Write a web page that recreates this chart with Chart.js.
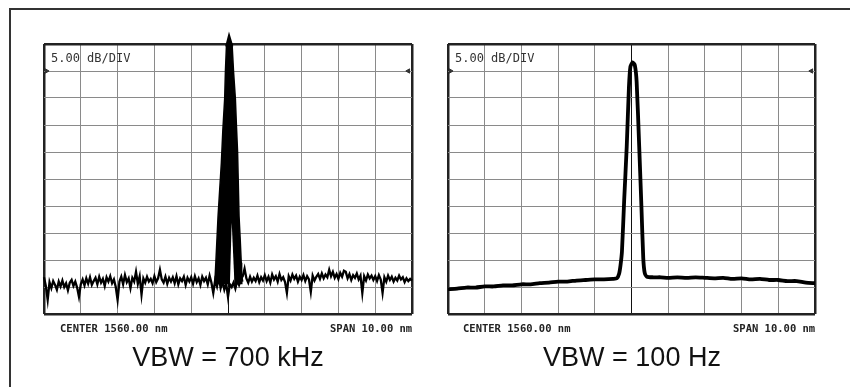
<!DOCTYPE html>
<html>
<head>
<meta charset="utf-8">
<script src="https://cdn.jsdelivr.net/npm/chart.js@4.4.1/dist/chart.umd.min.js"></script>
<style>
  body { margin: 0; background: #fff; }
  #lienzo { position: relative; width: 850px; height: 387px; overflow: hidden; }
  .marco { position: absolute; left: 9px; top: 8px; width: 900px; height: 450px;
           border-top: 2px solid #333; border-left: 2px solid #333; }
  .panel { position: absolute; top: 0; width: 425px; height: 387px; }
  .txt { position: absolute; white-space: pre; }
  .escala { font: 12px "DejaVu Sans Mono", monospace; line-height: 12px; color: #333; }
  .pie { font: bold 10.5px "DejaVu Sans Mono", monospace; line-height: 10.5px; color: #222; }
  .vbw { font: 27px "Liberation Sans", Arial, sans-serif; line-height: 27px; color: #111;
         width: 300px; text-align: center; }
</style>
</head>
<body>
<div id="lienzo">
  <div class="marco"></div>
  <div class="panel" style="left:0"><canvas id="graf700" width="425" height="387"></canvas></div>
  <div class="panel" style="left:425px"><canvas id="graf100" width="425" height="387"></canvas></div>

  <div class="txt escala" style="left:51px; top:52px">5.00 dB/DIV</div>
  <div class="txt escala" style="left:455px; top:52px">5.00 dB/DIV</div>
  <div class="txt pie" style="left:60px; top:323px">CENTER 1560.00 nm</div>
  <div class="txt pie" style="left:330px; top:323px; width:82px; text-align:right">SPAN 10.00 nm</div>
  <div class="txt pie" style="left:463px; top:323px">CENTER 1560.00 nm</div>
  <div class="txt pie" style="left:733px; top:323px; width:82px; text-align:right">SPAN 10.00 nm</div>
  <div class="txt vbw" style="left:78px; top:344px">VBW = 700 kHz</div>
  <div class="txt vbw" style="left:482px; top:344px">VBW = 100 Hz</div>
</div>

<script>
// barrido: 1555 - 1565 nm (centro 1560 nm, span 10 nm), 5 dB/div
const inicioBarrido = 1555;
const pasoBarrido = 0.05;

// traza con VBW = 700 kHz (dB, un valor por punto de barrido)
const traza700 = [
  -43.2, -44.8, -47.4, -44.1, -45.2, -43.9, -44.6, -45.5, -44.0, -44.9, -43.8, -45.0, -44.3, -45.6, -44.2, -43.7, -44.8, -44.0, -45.1, -46.8,
  -44.5, -43.6, -44.7, -43.4, -44.4, -43.2, -44.6, -43.9, -43.3, -44.5, -43.1, -44.2, -43.5, -44.8, -43.2, -44.0, -43.0, -44.3, -43.6, -45.0,
  -47.4, -44.0, -43.1, -44.5, -42.8, -44.1, -43.4, -45.2, -43.3, -44.0, -42.2, -44.4, -43.0, -46.4, -43.4, -44.2, -43.1, -44.0, -43.5, -44.3,
  -43.0, -44.1, -43.4, -41.8, -43.6, -44.2, -43.1, -44.4, -43.3, -44.0, -43.2, -44.3, -43.0, -44.5, -43.4, -43.9, -43.1, -44.6, -43.3, -44.0,
  -43.2, -44.4, -43.0, -44.1, -43.4, -44.6, -43.1, -43.9, -43.3, -44.5, -42.9, -44.2, -46.1, -43.8, -44.9, -43.0, -45.2, -44.0, -45.5, -44.3,
  -46.8, -44.5, -45.0, -44.2, -45.3, -43.8, -44.6, -43.5, -43.0, -41.6, -43.4, -44.2, -43.1, -44.0, -43.3, -43.9, -42.9, -44.1, -43.2, -43.8,
  -42.8, -43.9, -43.1, -44.2, -42.7, -43.6, -43.0, -44.0, -42.6, -43.7, -43.2, -44.1, -46.1, -43.0, -43.8, -42.7, -43.5, -42.9, -44.0, -43.1,
  -43.7, -42.8, -43.9, -43.0, -43.6, -45.9, -42.9, -43.8, -43.1, -42.6, -43.5, -42.5, -43.4, -42.7, -43.2, -41.8, -43.0, -42.2, -43.3, -42.6,
  -43.5, -42.4, -43.1, -42.0, -42.2, -43.4, -42.6, -43.7, -42.8, -43.3, -42.5, -43.6, -42.9, -46.1, -43.0, -43.8, -42.7, -43.4, -42.9, -43.7,
  -43.0, -43.9, -42.8, -43.6, -46.1, -43.2, -44.0, -42.9, -43.7, -43.1, -44.0, -43.3, -43.8, -42.9, -43.6, -43.2, -44.1, -43.4, -43.9, -43.5, -43.8
];

// envolvente del pico con VBW = 700 kHz (zona negra)
const envolventeNm = [1559.64, 1559.67, 1559.73, 1559.82, 1559.86, 1559.91, 1559.93, 1559.96, 1560.04, 1560.11,
                      1560.15, 1560.20, 1560.23, 1560.26, 1560.30, 1560.33, 1560.36, 1560.37, 1560.40];
const envolventeDb = [-44.6, -40.5, -31.9, -22.0, -16.0, -10.1, -5.1, 0.0, 0.0, 0.0,
                      -5.1, -10.1, -15.3, -20.0, -31.9, -36.0, -40.5, -42.7, -44.0];

// punta del pico, por encima de la reticula
const puntaNm = [1559.97, 1560.03, 1560.05, 1560.10];
const puntaDb = [-0.5, 1.1, 1.1, -0.5];

// hueco blanco dentro del pico
const huecoNm = [1560.05, 1560.10, 1560.18];
const huecoDb = [-45.0, -33.0, -45.0];

// traza con VBW = 100 Hz
const longitudes100 = [1555.00, 1555.25, 1555.50, 1555.75, 1556.00, 1556.25, 1556.50, 1556.75, 1557.00, 1557.25,
                       1557.50, 1557.75, 1558.00, 1558.25, 1558.50, 1558.75, 1559.00, 1559.25, 1559.50, 1559.60,
                       1559.66, 1559.70, 1559.74, 1559.80, 1559.87, 1559.93, 1559.97, 1560.03, 1560.09, 1560.14,
                       1560.21, 1560.27, 1560.32, 1560.36, 1560.42, 1560.60, 1560.80, 1561.00, 1561.25, 1561.50,
                       1561.75, 1562.00, 1562.25, 1562.50, 1562.75, 1563.00, 1563.25, 1563.50, 1563.75, 1564.00,
                       1564.25, 1564.50, 1564.75, 1565.00];
const traza100 = [-45.4, -45.3, -45.1, -45.1, -44.9, -44.9, -44.7, -44.7, -44.5, -44.5,
                  -44.3, -44.2, -44.0, -44.0, -43.8, -43.7, -43.6, -43.6, -43.5, -43.4,
                  -42.6, -41.0, -38.4, -29.0, -19.0, -8.0, -4.2, -3.4, -3.9, -7.0,
                  -19.0, -30.0, -39.6, -42.4, -43.1, -43.2, -43.2, -43.3, -43.2, -43.3,
                  -43.2, -43.3, -43.4, -43.3, -43.5, -43.4, -43.6, -43.5, -43.7, -43.7,
                  -43.9, -43.9, -44.2, -44.3];

// marcas de nivel de referencia
const marcasNm = [1555.07, 1564.9];
const marcasDb = [-5, -5];
const marcasGiro = [90, -90];

function puntos(xs, ys) {
    return xs.map((x, i) => ({ x: x, y: ys[i] }));
}

function escala(min, max, paso, marcarCentro) {
    return {
        type: 'linear',
        min: min,
        max: max,
        ticks: { display: false, stepSize: paso },
        border: { display: false },
        grid: {
            drawTicks: false,
            color: (ctx) => {
                if (ctx.index === 0 || ctx.index === 10) return '#222';
                if (marcarCentro && ctx.index === 5) return '#111';
                return '#8a8a8a';
            },
            lineWidth: (ctx) => (ctx.index === 0 || ctx.index === 10) ? 2.5 : 1
        }
    };
}

function datasetMarcas() {
    return {
        data: puntos(marcasNm, marcasDb),
        showLine: false,
        pointStyle: 'triangle',
        pointRotation: marcasGiro,
        pointRadius: 2.5,
        backgroundColor: '#333',
        borderColor: '#333',
        borderWidth: 1
    };
}

function opciones(relleno) {
    return {
        responsive: false,
        animation: false,
        devicePixelRatio: 1,
        layout: { padding: relleno },
        plugins: { legend: { display: false }, tooltip: { enabled: false } },
        scales: {
            x: escala(1555, 1565, 1, true),
            y: escala(-50, 0, 5, false)
        }
    };
}

const barrido700 = traza700.map((v, i) => ({ x: inicioBarrido + i * pasoBarrido, y: v }));

new Chart(document.getElementById('graf700'), {
    type: 'line',
    data: {
        datasets: [
            {
                data: barrido700,
                borderColor: '#000',
                borderWidth: 2.3,
                pointRadius: 0,
                tension: 0,
                clip: false
            },
            datasetMarcas(),
            {
                data: puntos(puntaNm, puntaDb),
                borderColor: '#000',
                borderWidth: 3.5,
                pointRadius: 0,
                clip: false
            },
            {
                data: puntos(huecoNm, huecoDb),
                borderColor: '#fff',
                borderWidth: 0,
                backgroundColor: '#fff',
                fill: { value: -45 },
                pointRadius: 0
            },
            {
                data: puntos(envolventeNm, envolventeDb),
                borderColor: '#000',
                borderWidth: 1.5,
                backgroundColor: '#000',
                fill: { value: -44.5 },
                pointRadius: 0
            }
        ]
    },
    options: opciones({ left: 44, top: 44, right: 13, bottom: 73 })
});

new Chart(document.getElementById('graf100'), {
    type: 'line',
    data: {
        datasets: [
            {
                data: puntos(longitudes100, traza100),
                borderColor: '#000',
                borderWidth: 3.8,
                pointRadius: 0,
                tension: 0.2,
                borderJoinStyle: 'round',
                borderCapStyle: 'round'
            },
            datasetMarcas()
        ]
    },
    options: opciones({ left: 23, top: 44, right: 35, bottom: 73 })
});
</script>
</body>
</html>
